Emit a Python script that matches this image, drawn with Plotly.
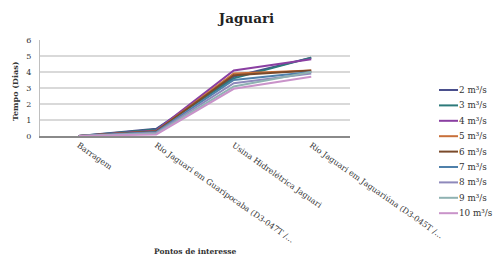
import plotly.graph_objects as go

categories = ["Barragem", "Rio Jaguari em Guaripocaba (D3-047T /...",
              "Usina Hidrelétrica Jaguari", "Rio Jaguari em Jaguariúna (D3-045T /..."]
series_names = ["2 m³/s", "3 m³/s", "4 m³/s", "5 m³/s", "6 m³/s",
                "7 m³/s", "8 m³/s", "9 m³/s", "10 m³/s"]
v2 = [0, 0.45, 3.7, 4.9]
v3 = [0, 0.40, 3.6, 4.9]
v4 = [0, 0.35, 4.1, 4.8]
v5 = [0, 0.30, 3.9, 4.1]
v6 = [0, 0.30, 3.8, 4.1]
v7 = [0, 0.25, 3.5, 4.0]
v8 = [0, 0.20, 3.3, 3.9]
v9 = [0, 0.15, 3.1, 4.0]
v10 = [0, 0.10, 2.95, 3.7]
series_values = [v2, v3, v4, v5, v6, v7, v8, v9, v10]
colors = ["#4a4f8c", "#2d7a7a", "#8a3fa2", "#c8703a", "#7a4a2a",
          "#4f80aa", "#8e89bb", "#8fb2b2", "#c993c9"]

font_family = "DejaVu Serif"
W, H = 493, 257
L, R, T, B = 40, 143, 40, 121
PW, PH = W - L - R, H - T - B


def px_x(px):
    return (px - L) / PW


def px_y(py):
    return (H - B - py) / PH


fig = go.Figure()
for name, vals, c in zip(series_names, series_values, colors):
    fig.add_trace(go.Scatter(x=categories, y=vals, mode="lines", name=name,
                             line=dict(color=c, width=2), showlegend=False))

# custom compact legend (Excel-like spacing)
for i, (name, c) in enumerate(zip(series_names, colors)):
    yc = 90 + i * 15.4
    fig.add_shape(type="line", xref="paper", yref="paper",
                  x0=px_x(439), x1=px_x(458), y0=px_y(yc), y1=px_y(yc),
                  line=dict(color=c, width=2))
    fig.add_annotation(xref="paper", yref="paper", x=px_x(457), y=px_y(yc),
                       text=name, showarrow=False, xanchor="left", yanchor="middle",
                       font=dict(size=8.8, color="#333"))

fig.add_annotation(xref="paper", yref="paper", x=0.5, y=px_y(252),
                   text="<b>Pontos de interesse</b>", showarrow=False,
                   xanchor="center", yanchor="middle", font=dict(size=7.5, color="#333"))
fig.add_annotation(xref="paper", yref="paper", x=px_x(15), y=px_y(91),
                   text="<b>Tempo (Dias)</b>", showarrow=False, textangle=-90,
                   xanchor="center", yanchor="middle", font=dict(size=8, color="#333"))

fig.update_layout(
    width=W, height=H,
    paper_bgcolor="white", plot_bgcolor="white",
    margin=dict(l=L, r=R, t=T, b=B, autoexpand=False),
    title=dict(text="<b>Jaguari</b>", x=0.5, xanchor="center", y=1 - 18 / H, yanchor="middle",
               font=dict(family=font_family, size=13.5, color="#222")),
    font=dict(family=font_family, size=8, color="#333"),
    showlegend=False,
)
fig.update_xaxes(
    type="category", range=[-0.5, 3.5], tickangle=35, showgrid=False, showline=True,
    linecolor="#8a8a8a", linewidth=1.5, ticks="", automargin=False,
    tickfont=dict(size=8, color="#333"),
)
fig.update_yaxes(
    range=[0, 6], dtick=1, showgrid=True, gridcolor="#d9d9d9", gridwidth=1.5,
    showline=True, linecolor="#bfbfbf", linewidth=1, zeroline=False, ticks="",
    ticklabelstandoff=6,
    automargin=False, tickfont=dict(size=8, color="#333"),
)
fig.write_html("out.html", config={"displayModeBar": False},
               post_script="document.body.style.margin='0';")
